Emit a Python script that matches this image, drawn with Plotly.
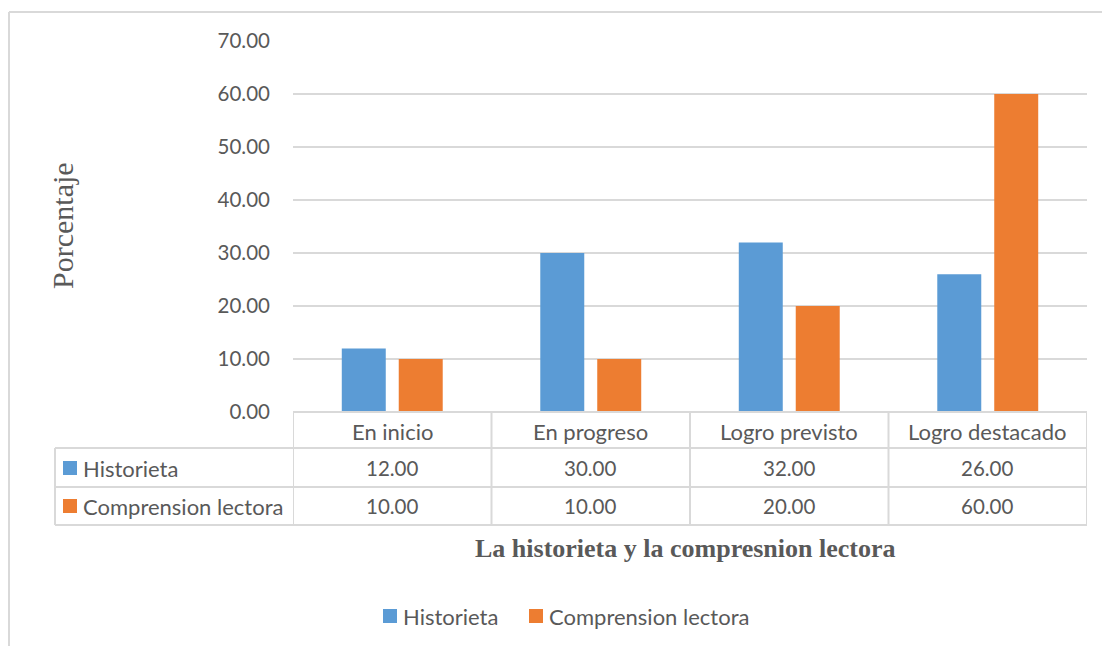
import plotly.graph_objects as go

categories = ["En inicio", "En progreso", "Logro previsto", "Logro destacado"]
series_names = ["Historieta", "Comprension lectora"]
historieta = [12, 30, 32, 26]
comprension = [10, 10, 20, 60]
y_ticks = [0, 10, 20, 30, 40, 50, 60, 70]
y_title = "Porcentaje"
x_title = "La historieta y la compresnion lectora"

colors = ["#5B9BD5", "#ED7D31"]
W, H = 1102, 646
TXT = "#595959"
GRID = "#d9d9d9"
FONT = "Lato"
FS_NUM = 20.5
FS_TXT = 22


def px(x):
    return x / W


def py(y):
    return 1 - y / H


fig = go.Figure()
for name, vals, col in zip(series_names, [historieta, comprension], colors):
    fig.add_trace(go.Bar(x=categories, y=vals, name=name, marker=dict(color=col, line=dict(width=0)),
                         showlegend=False))

fig.update_layout(
    width=W, height=H,
    margin=dict(l=0, r=0, t=0, b=0, pad=0, autoexpand=False),
    paper_bgcolor="white", plot_bgcolor="white",
    barmode="group", bargap=0.426, bargroupgap=0.228,
    font=dict(family=FONT, color=TXT, size=FS_TXT),
    showlegend=False,
    xaxis=dict(domain=[px(293), px(1087)], showticklabels=False, showgrid=False, zeroline=False,
               showline=False, range=[-0.5, 3.5], fixedrange=True, automargin=False),
    yaxis=dict(domain=[py(412), py(41)], range=[0, 70], tickvals=y_ticks,
               ticktext=[f"{v:.2f}" for v in y_ticks], showgrid=True, gridcolor=GRID, gridwidth=1.5,
               zeroline=False, showline=False, ticks="", ticklabelstandoff=22, automargin=False,
               tickfont=dict(size=FS_NUM, color=TXT)),
)

shapes = []
line = dict(color=GRID, width=2)
# outer chart border
shapes.append(dict(type="line", xref="paper", yref="paper", x0=px(9), x1=px(1102), y0=py(12), y1=py(12), line=line))
shapes.append(dict(type="line", xref="paper", yref="paper", x0=px(9), x1=px(9), y0=py(12), y1=py(646), line=line))
# data table
shapes.append(dict(type="line", xref="x", yref="paper", x0=-0.5, x1=3.5, y0=py(412), y1=py(412), line=line))
for yy in (448, 487, 525):
    shapes.append(dict(type="line", xref="paper", yref="paper", x0=px(55), x1=px(1087), y0=py(yy), y1=py(yy), line=line))
for i in range(len(categories) + 1):
    shapes.append(dict(type="line", xref="x", yref="paper", x0=i - 0.5, x1=i - 0.5, y0=py(412), y1=py(525), line=line))
shapes.append(dict(type="line", xref="paper", yref="paper", x0=px(55), x1=px(55), y0=py(448), y1=py(525), line=line))
# legend keys in table
row_y = [468, 506]
for ry, col in zip(row_y, colors):
    shapes.append(dict(type="rect", xref="paper", yref="paper", x0=px(63), x1=px(77), y0=py(ry - 7), y1=py(ry + 7),
                       fillcolor=col, line=dict(width=0)))
# bottom legend keys
leg_x = [383, 529]
leg_y = 616
for lx, col in zip(leg_x, colors):
    shapes.append(dict(type="rect", xref="paper", yref="paper", x0=px(lx), x1=px(lx + 14), y0=py(leg_y - 7),
                       y1=py(leg_y + 7), fillcolor=col, line=dict(width=0)))
fig.update_layout(shapes=shapes)

ann = []
for c in categories:
    ann.append(dict(x=c, xref="x", y=py(431), yref="paper", text=c, showarrow=False,
                    font=dict(size=FS_TXT, color=TXT), xanchor="center", yanchor="middle"))
for ry, vals, name in zip(row_y, [historieta, comprension], series_names):
    for c, v in zip(categories, vals):
        ann.append(dict(x=c, xref="x", y=py(ry), yref="paper", text=f"{v:.2f}", showarrow=False,
                        font=dict(size=FS_NUM, color=TXT), xanchor="center", yanchor="middle"))
    ann.append(dict(x=px(81), xref="paper", y=py(ry), yref="paper", text=name, showarrow=False,
                    font=dict(size=FS_TXT, color=TXT), xanchor="left", yanchor="middle"))
for lx, name in zip(leg_x, series_names):
    ann.append(dict(x=px(lx + 18), xref="paper", y=py(leg_y), yref="paper", text=name, showarrow=False,
                    font=dict(size=FS_TXT, color=TXT), xanchor="left", yanchor="middle"))
ann.append(dict(x=px(62), xref="paper", y=py(226), yref="paper", text=y_title, showarrow=False, textangle=-90,
                font=dict(family="Liberation Serif", size=30, color=TXT), xanchor="center", yanchor="middle"))
ann.append(dict(x=px(685), xref="paper", y=py(548), yref="paper", text=f"<b>{x_title}</b>", showarrow=False,
                font=dict(family="Liberation Serif", size=26, color=TXT), xanchor="center", yanchor="middle"))
fig.update_layout(annotations=ann)

fig.write_html("out.html", config={"displayModeBar": False},
               post_script="document.body.style.margin='0';")
